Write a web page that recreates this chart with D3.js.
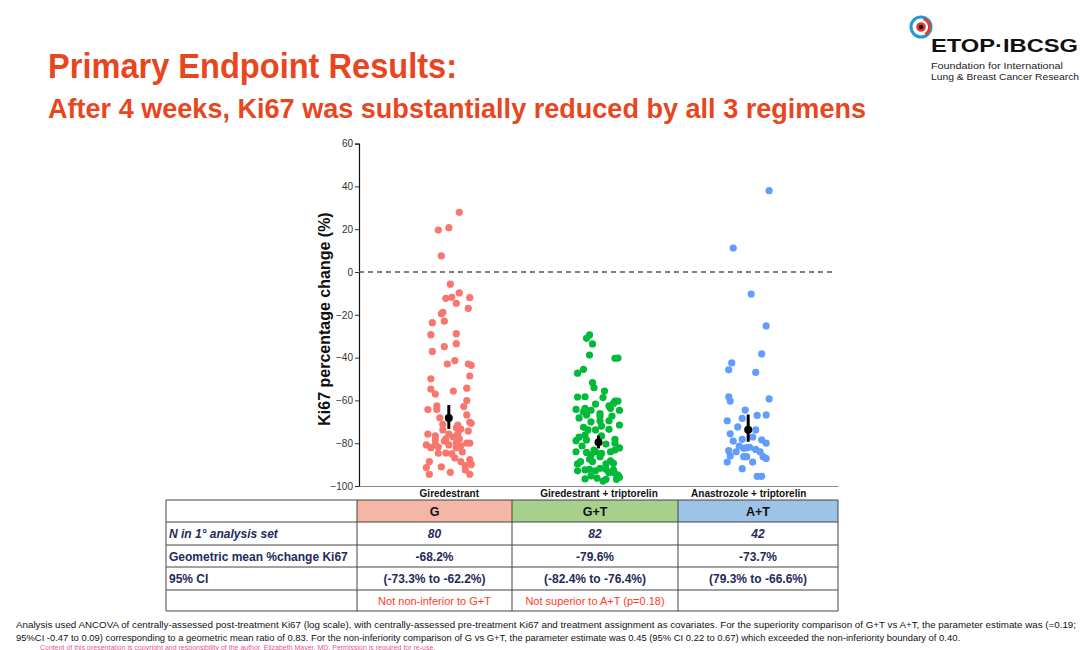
<!DOCTYPE html>
<html><head><meta charset="utf-8">
<script src="https://cdn.jsdelivr.net/npm/d3@7/dist/d3.min.js"></script>
<style>
html,body{margin:0;padding:0;background:#fff;}
svg{display:block;font-family:"Liberation Sans",Arial,sans-serif;}
</style></head>
<body><svg id="c" width="1080" height="650"></svg>
<script>
// ---------- DATA ----------
const categories = ["Giredestrant", "Giredestrant + triptorelin", "Anastrozole + triptorelin"];
const groupCodes = ["G", "G+T", "A+T"];
const yTicks = [60, 40, 20, 0, -20, -40, -60, -80, -100];

const valuesG = [19.6,20.7,27.9,7.5,-5.7,-12.3,-11.8,-9.8,-12.0,-14.6,-17.0,-19.5,-18.8,-23.7,-23.0,-29.3,-28.8,-33.5,-34.9,-37.1,
 -41.4,-43.0,-43.0,-43.6,-49.9,-48.6,-54.7,-57.0,-55.6,-54.3,-60.1,-64.3,-62.6,-64.3,-62.9,-68.1,-66.8,-71.2,-70.2,-70.7,
 -71.5,-72.8,-73.4,-73.8,-74.3,-75.8,-76.6,-75.8,-75.8,-78.0,-78.0,-79.9,-80.0,-80.8,-82.1,-80.8,-80.8,-80.0,-81.2,-84.7,
 -84.6,-84.9,-82.1,-88.6,-91.4,-91.1,-88.6,-87.7,-89.9,-90.5,-94.5,-93.6,-94.5,-77.1,-79.0,-84.1,-81.8,-86.9,-92.5,-78.5];
const jitterG = [-0.07,0.00,0.07,-0.05,0.01,-0.02,0.02,0.07,0.14,0.05,0.13,-0.05,-0.04,-0.11,-0.03,-0.12,0.05,0.05,-0.03,-0.11,
 0.04,-0.01,0.13,0.15,-0.12,0.14,-0.12,-0.09,0.03,0.12,0.12,-0.14,-0.08,-0.08,0.10,-0.06,0.12,-0.04,0.14,0.15,
 0.06,0.05,0.08,-0.04,0.13,-0.14,-0.09,0.00,0.06,-0.02,0.07,0.12,0.14,-0.15,-0.12,-0.09,0.00,0.05,0.08,-0.07,
 -0.02,0.02,0.05,-0.13,-0.15,-0.05,0.08,0.14,0.15,0.11,-0.13,0.01,0.14,0.03,-0.03,0.09,-0.07,0.04,0.11,-0.09];

const valuesGT = [-29.4,-31.0,-33.6,-38.8,-40.3,-40.2,-45.5,-47.3,-51.7,-54.1,-55.6,-58.3,-58.7,-60.3,-60.3,-64.2,-63.7,-64.6,-62.6,-63.7,
 -64.6,-66.2,-65.3,-66.8,-61.4,-67.3,-70.0,-69.5,-69.5,-72.6,-72.0,-73.5,-78.8,-77.2,-76.2,-78.5,-76.6,-78.2,-80.0,-84.0,
 -84.3,-85.5,-83.2,-84.0,-84.7,-86.3,-84.0,-83.2,-88.6,-87.5,-88.6,-88.2,-89.4,-92.9,-92.5,-92.2,-92.9,-91.7,-92.2,-93.8,
 -92.5,-94.9,-95.9,-95.3,-96.9,-96.9,-94.1,-68.2,-73.8,-80.4,-81.3,-82.2,-89.7,-89.7,-96.3,-96.7,-67.3,-58.4,-61.7,-71.5,
 -73.8,-97.7];
const jitterGT = [-0.06,-0.08,-0.04,-0.06,0.11,0.13,-0.10,-0.14,-0.04,-0.03,0.04,-0.09,0.03,0.11,0.13,-0.15,-0.09,-0.05,0.07,0.08,
 0.14,0.01,-0.10,-0.08,0.10,0.01,-0.05,0.01,0.07,-0.10,0.02,0.07,-0.15,-0.13,-0.09,-0.08,0.02,0.11,0.11,-0.15,
 -0.08,-0.05,-0.03,-0.02,0.02,0.01,0.08,0.11,-0.12,-0.06,-0.04,0.08,0.10,-0.14,-0.09,-0.06,-0.02,0.01,0.05,0.07,
 0.10,0.13,0.14,-0.05,0.05,0.12,0.11,-0.13,-0.02,0.05,-0.11,0.14,0.05,-0.14,-0.01,-0.09,0.09,-0.14,-0.02,0.14,
 -0.07,0.03];

const valuesAT = [38.0,11.2,-10.3,-25.2,-38.3,-42.5,-45.7,-46.9,-58.3,-60.3,-59.3,-64.5,-69.5,-68.4,-67.0,-66.8,-75.6,-73.8,-78.2,-78.4,
 -80.0,-83.5,-84.0,-86.0,-88.8,-82.4,-82.1,-81.9,-86.3,-86.3,-82.9,-86.3,-87.1,-91.9,-95.5,-95.5,-72.4,-77.1,-81.3,-84.1,
 -79.0,-88.8];
const jitterAT = [0.14,-0.10,0.02,0.12,0.09,-0.11,-0.13,0.05,-0.13,-0.12,0.14,-0.02,-0.14,-0.04,0.06,0.12,-0.12,0.05,-0.04,0.09,
 0.12,-0.13,-0.08,-0.12,-0.14,-0.03,-0.01,0.01,-0.03,-0.01,0.05,0.10,0.12,-0.04,0.06,0.09,-0.07,0.03,-0.06,0.08,
 -0.10,0.03];

const geoMean = [-68.2, -79.6, -73.7];
const ciLow = [-73.3, -82.4, -79.3];
const ciHigh = [-62.2, -76.4, -66.6];
const nAnalysis = ["80", "82", "42"];
const meanLabels = ["-68.2%", "-79.6%", "-73.7%"];
const ciLabels = ["(-73.3% to -62.2%)", "(-82.4% to -76.4%)", "(79.3% to -66.6%)"];
const noteLabels = ["Not non-inferior to G+T", "Not superior to A+T (p=0.18)", ""];
const rowLabels = ["N in 1° analysis set", "Geometric mean %change Ki67", "95% CI", ""];

// ---------- STYLE ----------
const dotColors = ["#F8766D", "#00BA38", "#619CFF"];
const headFills = ["#F4B6A6", "#A8D08D", "#9DC3E6"];
const titleColor = "#E8461E";
const navy = "#1F2B5C";

const svg = d3.select("#c");

// Titles
svg.append("text").attr("x", 48).attr("y", 78).attr("fill", titleColor)
  .attr("font-size", 35).attr("font-weight", "bold")
  .attr("textLength", 409).attr("lengthAdjust", "spacingAndGlyphs")
  .text("Primary Endpoint Results:");
svg.append("text").attr("x", 48).attr("y", 118).attr("fill", titleColor)
  .attr("font-size", 27).attr("font-weight", "bold")
  .attr("textLength", 818).attr("lengthAdjust", "spacingAndGlyphs")
  .text("After 4 weeks, Ki67 was substantially reduced by all 3 regimens");

// Logo
const logo = svg.append("g");
logo.append("circle").attr("cx", 921).attr("cy", 27).attr("r", 10).attr("fill", "none").attr("stroke", "#1E9BD7").attr("stroke-width", 3);
logo.append("path").attr("d", d3.arc()({innerRadius: 7, outerRadius: 10, startAngle: 0.3, endAngle: 2.6})).attr("transform", "translate(921,27)").attr("fill", "#E63A2E");
logo.append("circle").attr("cx", 921).attr("cy", 27).attr("r", 4.8).attr("fill", "#E63A2E");
logo.append("circle").attr("cx", 921).attr("cy", 27).attr("r", 2.3).attr("fill", "#111");
logo.append("text").attr("x", 931).attr("y", 52).attr("font-size", 19).attr("font-weight", "bold").attr("fill", "#111")
  .attr("textLength", 147).attr("lengthAdjust", "spacingAndGlyphs").text("ETOP·IBCSG");
logo.append("text").attr("x", 931).attr("y", 69).attr("font-size", 9.5).attr("fill", "#222")
  .attr("textLength", 132).attr("lengthAdjust", "spacingAndGlyphs").text("Foundation for International");
logo.append("text").attr("x", 931).attr("y", 80).attr("font-size", 9.5).attr("fill", "#222")
  .attr("textLength", 148).attr("lengthAdjust", "spacingAndGlyphs").text("Lung & Breast Cancer Research");

// Scales
const x = d3.scalePoint().domain(categories).range([359, 838]).padding(0.6);
const step = x.step();
const y = d3.scaleLinear().domain([-100, 60]).range([486, 143.6]);

// Y axis
const yAxis = d3.axisLeft(y).tickValues(yTicks).tickSize(4).tickPadding(2);
const yg = svg.append("g").attr("transform", "translate(359,0)").call(yAxis);
yg.select(".domain").attr("stroke", "#111").attr("stroke-width", 1.2);
yg.selectAll(".tick line").attr("stroke", "#333");
yg.selectAll(".tick text").attr("font-size", 10).attr("fill", "#333").attr("font-family", "Liberation Sans, Arial, sans-serif");

// Y title
svg.append("text").attr("transform", "translate(330,319) rotate(-90)").attr("text-anchor", "middle")
  .attr("font-size", 16).attr("font-weight", "bold").attr("fill", "#111").text("Ki67 percentage change (%)");

// X axis (bottom)
const xAxis = d3.axisBottom(x).tickSize(0).tickPadding(4);
const xg = svg.append("g").attr("transform", "translate(0,486)").call(xAxis);
xg.select(".domain").attr("stroke", "#888").attr("stroke-width", 1);
xg.selectAll(".tick text").attr("font-size", 10).attr("font-weight", "bold").attr("fill", "#111").attr("font-family", "Liberation Sans, Arial, sans-serif");

// zero reference line
svg.append("line").attr("x1", 359).attr("x2", 836).attr("y1", y(0)).attr("y2", y(0))
  .attr("stroke", "#555").attr("stroke-width", 1.5).attr("stroke-dasharray", "5,4");

// points
const groups = [
  {cat: categories[0], vals: valuesG, jit: jitterG},
  {cat: categories[1], vals: valuesGT, jit: jitterGT},
  {cat: categories[2], vals: valuesAT, jit: jitterAT}
];
groups.forEach((g, gi) => {
  svg.append("g").selectAll("circle").data(g.vals).join("circle")
    .attr("cx", (d, i) => x(g.cat) + g.jit[i] * step)
    .attr("cy", d => y(d))
    .attr("r", 3.6)
    .attr("fill", dotColors[gi]);
});

// means & CI
const mg = svg.append("g");
categories.forEach((c, i) => {
  mg.append("line").attr("x1", x(c)).attr("x2", x(c)).attr("y1", y(ciLow[i])).attr("y2", y(ciHigh[i]))
    .attr("stroke", "#000").attr("stroke-width", 3);
  mg.append("circle").attr("cx", x(c)).attr("cy", y(geoMean[i])).attr("r", 4).attr("fill", "#000");
});

// ---------- TABLE ----------
const colX = [166, 357, 512, 678, 838];
const rowY = [500, 522, 545, 567, 590, 611];
const tg = svg.append("g");
for (let i = 0; i < 3; i++) {
  tg.append("rect").attr("x", colX[i + 1]).attr("y", rowY[0]).attr("width", colX[i + 2] - colX[i + 1]).attr("height", rowY[1] - rowY[0])
    .attr("fill", headFills[i]);
  tg.append("text").attr("x", (colX[i + 1] + colX[i + 2]) / 2).attr("y", rowY[0] + 16).attr("text-anchor", "middle")
    .attr("font-size", 12.5).attr("font-weight", "bold").attr("fill", "#111").text(groupCodes[i]);
}
rowY.forEach(ry => tg.append("line").attr("x1", colX[0]).attr("x2", colX[4]).attr("y1", ry).attr("y2", ry).attr("stroke", "#444").attr("stroke-width", 1));
colX.forEach(cx => tg.append("line").attr("x1", cx).attr("x2", cx).attr("y1", rowY[0]).attr("y2", rowY[5]).attr("stroke", "#444").attr("stroke-width", 1));
rowLabels.forEach((t, r) => {
  tg.append("text").attr("x", colX[0] + 3).attr("y", rowY[r + 1] + 16).attr("font-size", 12).attr("font-weight", "bold")
    .attr("font-style", r === 0 ? "italic" : "normal").attr("fill", navy).text(t);
});
const rowsData = [nAnalysis, meanLabels, ciLabels];
rowsData.forEach((arr, r) => {
  arr.forEach((t, i) => {
    tg.append("text").attr("x", (colX[i + 1] + colX[i + 2]) / 2).attr("y", rowY[r + 1] + 16).attr("text-anchor", "middle")
      .attr("font-size", 12).attr("font-weight", "bold").attr("font-style", r === 0 ? "italic" : "normal").attr("fill", navy).text(t);
  });
});
noteLabels.forEach((t, i) => {
  tg.append("text").attr("x", (colX[i + 1] + colX[i + 2]) / 2).attr("y", rowY[4] + 15).attr("text-anchor", "middle")
    .attr("font-size", 11).attr("fill", "#FF3B1F").text(t);
});

// footnote
svg.append("text").attr("x", 16).attr("y", 628).attr("font-size", 9.5).attr("fill", "#111")
  .attr("textLength", 1060).attr("lengthAdjust", "spacingAndGlyphs")
  .text("Analysis used ANCOVA of centrally-assessed post-treatment Ki67 (log scale), with centrally-assessed pre-treatment Ki67 and treatment assignment as covariates. For the superiority comparison of G+T vs A+T, the parameter estimate was (=0.19;");
svg.append("text").attr("x", 16).attr("y", 641).attr("font-size", 9.5).attr("fill", "#111")
  .attr("textLength", 944).attr("lengthAdjust", "spacingAndGlyphs")
  .text("95%CI -0.47 to 0.09) corresponding to a geometric mean ratio of 0.83. For the non-inferiority comparison of G vs G+T, the parameter estimate was 0.45 (95% CI 0.22 to 0.67) which exceeded the non-inferiority boundary of 0.40.");
svg.append("text").attr("x", 40).attr("y", 649.5).attr("font-size", 7).attr("fill", "#E8559A")
  .text("Content of this presentation is copyright and responsibility of the author, Elizabeth Mayer, MD. Permission is required for re-use.");
</script>
</body></html>
